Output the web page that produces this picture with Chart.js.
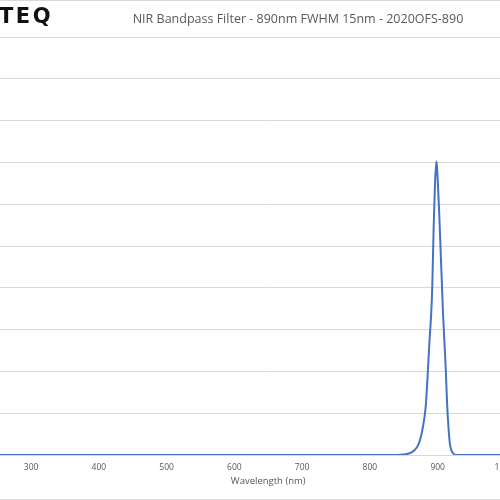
<!DOCTYPE html>
<html>
<head>
<meta charset="utf-8">
<script src="https://cdn.jsdelivr.net/npm/chart.js@4"></script>
<style>
  html, body { margin:0; padding:0; width:500px; height:500px; overflow:hidden; background:#fff; }
  #wrap { position:relative; width:500px; height:500px; overflow:hidden; }
  #c { position:absolute; left:-100px; top:0; }
  #logo { position:absolute; left:-1px; top:4px; font-family:"DejaVu Sans", sans-serif; font-weight:bold; font-size:21px; color:#111; letter-spacing:2.5px; }
  #title { position:absolute; left:298px; top:10px; transform:translateX(-50%); white-space:nowrap; font-family:"Open Sans", sans-serif; font-size:12.5px; color:#595959; }
  .border { position:absolute; left:0; width:500px; height:1px; background:#d9d9d9; }
</style>
</head>
<body>
<div id="wrap">
  <div class="border" style="top:0px"></div>
  <div class="border" style="top:499px"></div>
  <canvas id="c" width="700" height="500"></canvas>
  <div id="logo">TEQ</div>
  <div id="title">NIR Bandpass Filter - 890nm FWHM 15nm - 2020OFS-890</div>
</div>
<script>
// Wavelength (nm)
const wavelengths = [200, 300, 400, 500, 600, 700, 800, 840, 850, 856, 862, 866, 870, 874, 878, 882, 884, 886, 888, 890, 892, 894, 896, 898, 899, 900, 902, 904, 906, 908, 910, 912, 914, 916, 918, 920, 923, 926, 935, 950, 1000, 1050, 1100];
// Transmission (%)
const transmission = [0, 0, 0, 0, 0, 0, 0, 0, 0.1, 0.3, 0.7, 1.2, 2.0, 3.6, 6.5, 11, 15.5, 21.5, 27.5, 32.5, 40, 54, 64.5, 70.2, 69, 66, 59, 50.5, 42, 33.5, 27, 20.3, 12, 6.5, 2.8, 1.2, 0.4, 0, 0, 0, 0, 0, 0];
const xTicks = [200, 300, 400, 500, 600, 700, 800, 900, 1000, 1100];

const points = wavelengths.map((w, i) => ({ x: w, y: transmission[i] }));

new Chart(document.getElementById('c'), {
  type: 'line',
  data: {
    datasets: [{
      data: points,
      borderColor: '#4472C4',
      borderWidth: 2,
      pointRadius: 0,
      fill: false,
      cubicInterpolationMode: 'monotone'
    }]
  },
  options: {
    responsive: false,
    devicePixelRatio: 1,
    animation: false,
    layout: { padding: { top: 37, right: 26.8, bottom: 0, left: 0 } },
    plugins: { legend: { display: false }, tooltip: { enabled: false }, title: { display: false } },
    scales: {
      x: {
        type: 'linear',
        min: xTicks[0],
        max: xTicks[xTicks.length - 1],
        afterBuildTicks: s => { s.ticks = xTicks.map(v => ({ value: v })); },
        afterFit: s => { s.height = 45; },
        grid: { display: false, drawTicks: false },
        border: { display: true, color: '#d9d9d9', width: 1 },
        ticks: { padding: 7, color: '#595959', font: { family: 'Open Sans', size: 8.5 }, maxRotation: 0, autoSkip: false },
        title: { display: true, text: 'Wavelength (nm)', color: '#595959', font: { family: 'Open Sans', size: 9.5 }, padding: { top: 0, bottom: 13 } }
      },
      y: {
        min: 0,
        max: 100,
        afterFit: s => { s.width = 63.3; },
        ticks: { display: false, stepSize: 10 },
        grid: { color: '#d9d9d9', lineWidth: 1, drawTicks: false },
        border: { display: false }
      }
    }
  }
});
</script>
</body>
</html>
